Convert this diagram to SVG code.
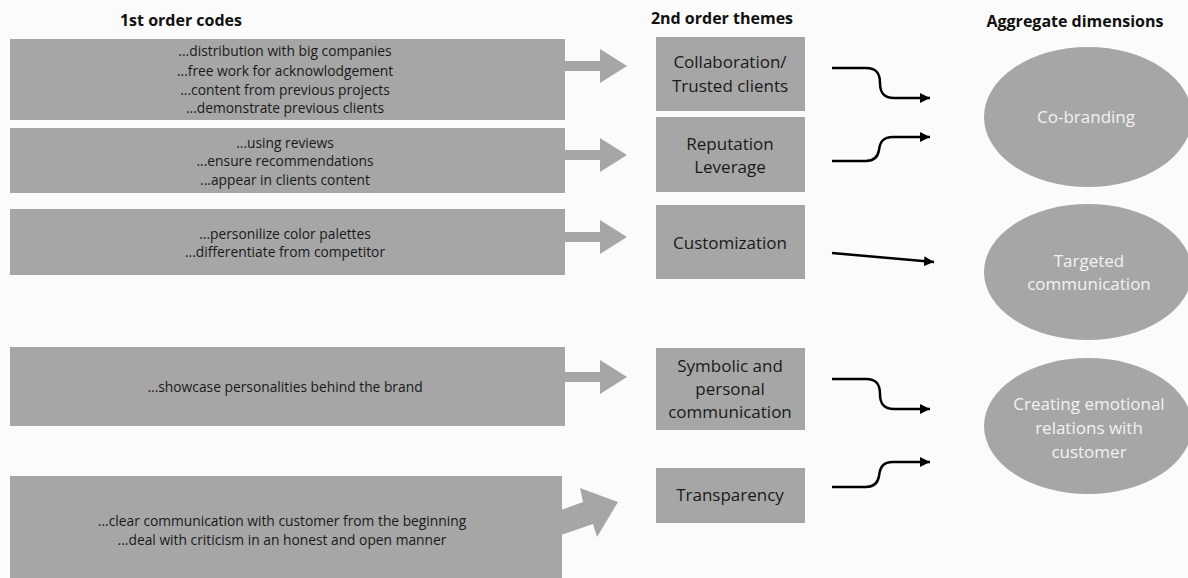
<svg xmlns="http://www.w3.org/2000/svg" width="1188" height="578" viewBox="0 0 1188 578">
<defs>
<style>
.bg{fill:#fbfbfb}
.box{fill:#a6a6a6}
.ell{fill:#a6a6a6}
.blk{fill:#a6a6a6}
.title{font-family:"Open Sans","Liberation Sans",sans-serif;font-weight:bold;font-size:16px;fill:#111;text-anchor:middle}
.code{font-family:"Open Sans","Liberation Sans",sans-serif;font-size:13.8px;fill:#1a1a1a;text-anchor:middle}
.theme{font-family:"Open Sans","Liberation Sans",sans-serif;font-size:17px;fill:#1a1a1a;text-anchor:middle}
.dim{font-family:"Open Sans","Liberation Sans",sans-serif;font-size:17px;fill:#f2f2f2;text-anchor:middle}
.con{fill:none;stroke:#000;stroke-width:2.5}
</style>
<marker id="ah" markerUnits="userSpaceOnUse" markerWidth="11" markerHeight="10" refX="10" refY="5" orient="auto">
<path d="M0,0 L10,5 L0,10 z" fill="#000"/>
</marker>
</defs>
<rect class="bg" x="0" y="0" width="1188" height="578"/>
<g id="titles">
<text class="title" x="181" y="26">1st order codes</text>
<text class="title" x="722" y="24">2nd order themes</text>
<text class="title" x="1075" y="27">Aggregate dimensions</text>
</g>
<g id="code1">
<rect class="box" x="10" y="39" width="555" height="81"/>
<text class="code" x="285" y="56">...distribution with big companies</text>
<text class="code" x="285" y="76">...free work for acknowlodgement</text>
<text class="code" x="285" y="95">...content from previous projects</text>
<text class="code" x="285" y="113">...demonstrate previous clients</text>
</g>
<g id="code2">
<rect class="box" x="10" y="128" width="555" height="65"/>
<text class="code" x="285" y="148">...using reviews</text>
<text class="code" x="285" y="166">...ensure recommendations</text>
<text class="code" x="285" y="185">...appear in clients content</text>
</g>
<g id="code3">
<rect class="box" x="10" y="209" width="555" height="66"/>
<text class="code" x="285" y="239">...personilize color palettes</text>
<text class="code" x="285" y="257">...differentiate from competitor</text>
</g>
<g id="code4">
<rect class="box" x="10" y="347" width="555" height="79"/>
<text class="code" x="285" y="392">...showcase personalities behind the brand</text>
</g>
<g id="code5">
<rect class="box" x="10" y="476" width="552" height="102"/>
<text class="code" x="282" y="526">...clear communication with customer from the beginning</text>
<text class="code" x="282" y="545">...deal with criticism in an honest and open manner</text>
</g>
<g id="block-arrows">
<polygon class="blk" points="564,61 600,61 600,49 627,66 600,83 600,71 564,71"/>
<polygon class="blk" points="564,150 600,150 600,138 627,155 600,172 600,160 564,160"/>
<polygon class="blk" points="564,232 600,232 600,220 627,237 600,254 600,242 564,242"/>
<polygon class="blk" points="564,372 600,372 600,360 627,377 600,394 600,382 564,382"/>
<polygon class="blk" points="561,510 583,502 580,488 618,502 597,537 593,524 561,535"/>
</g>
<g id="theme1">
<rect class="box" x="656" y="37" width="149" height="74"/>
<text class="theme" x="730" y="68">Collaboration/</text>
<text class="theme" x="730" y="92">Trusted clients</text>
</g>
<g id="theme2">
<rect class="box" x="656" y="117" width="149" height="75"/>
<text class="theme" x="730" y="150">Reputation</text>
<text class="theme" x="730" y="173">Leverage</text>
</g>
<g id="theme3">
<rect class="box" x="656" y="205" width="149" height="74"/>
<text class="theme" x="730" y="249">Customization</text>
</g>
<g id="theme4">
<rect class="box" x="656" y="348" width="149" height="82"/>
<text class="theme" x="730" y="372">Symbolic and</text>
<text class="theme" x="730" y="395">personal</text>
<text class="theme" x="730" y="418">communication</text>
</g>
<g id="theme5">
<rect class="box" x="656" y="468" width="149" height="55"/>
<text class="theme" x="730" y="501">Transparency</text>
</g>
<g id="dim1">
<ellipse class="ell" cx="1088" cy="117" rx="104" ry="70"/>
<text class="dim" x="1086" y="123">Co-branding</text>
</g>
<g id="dim2">
<ellipse class="ell" cx="1088" cy="272" rx="104" ry="68"/>
<text class="dim" x="1089" y="267">Targeted</text>
<text class="dim" x="1089" y="290">communication</text>
</g>
<g id="dim3">
<ellipse class="ell" cx="1088" cy="426" rx="104" ry="68"/>
<text class="dim" x="1089" y="410">Creating emotional</text>
<text class="dim" x="1089" y="434">relations with</text>
<text class="dim" x="1089" y="458">customer</text>
</g>
<g id="connectors">
<path class="con" marker-end="url(#ah)" d="M832,68 H866 C877,68 880,74 880,83 C880,92 883,98 894,98 H930"/>
<path class="con" marker-end="url(#ah)" d="M832,161 H866 C875,161 878,156 879,150 C880,142 883,137 893,137 H930"/>
<path class="con" marker-end="url(#ah)" d="M832,253 L934,262"/>
<path class="con" marker-end="url(#ah)" d="M832,379 H866 C877,379 880,385 880,394 C880,403 883,409 894,409 H930"/>
<path class="con" marker-end="url(#ah)" d="M832,487 H866 C875,487 878,482 879,476 C880,467 883,462 893,462 H930"/>
</g>
</svg>
